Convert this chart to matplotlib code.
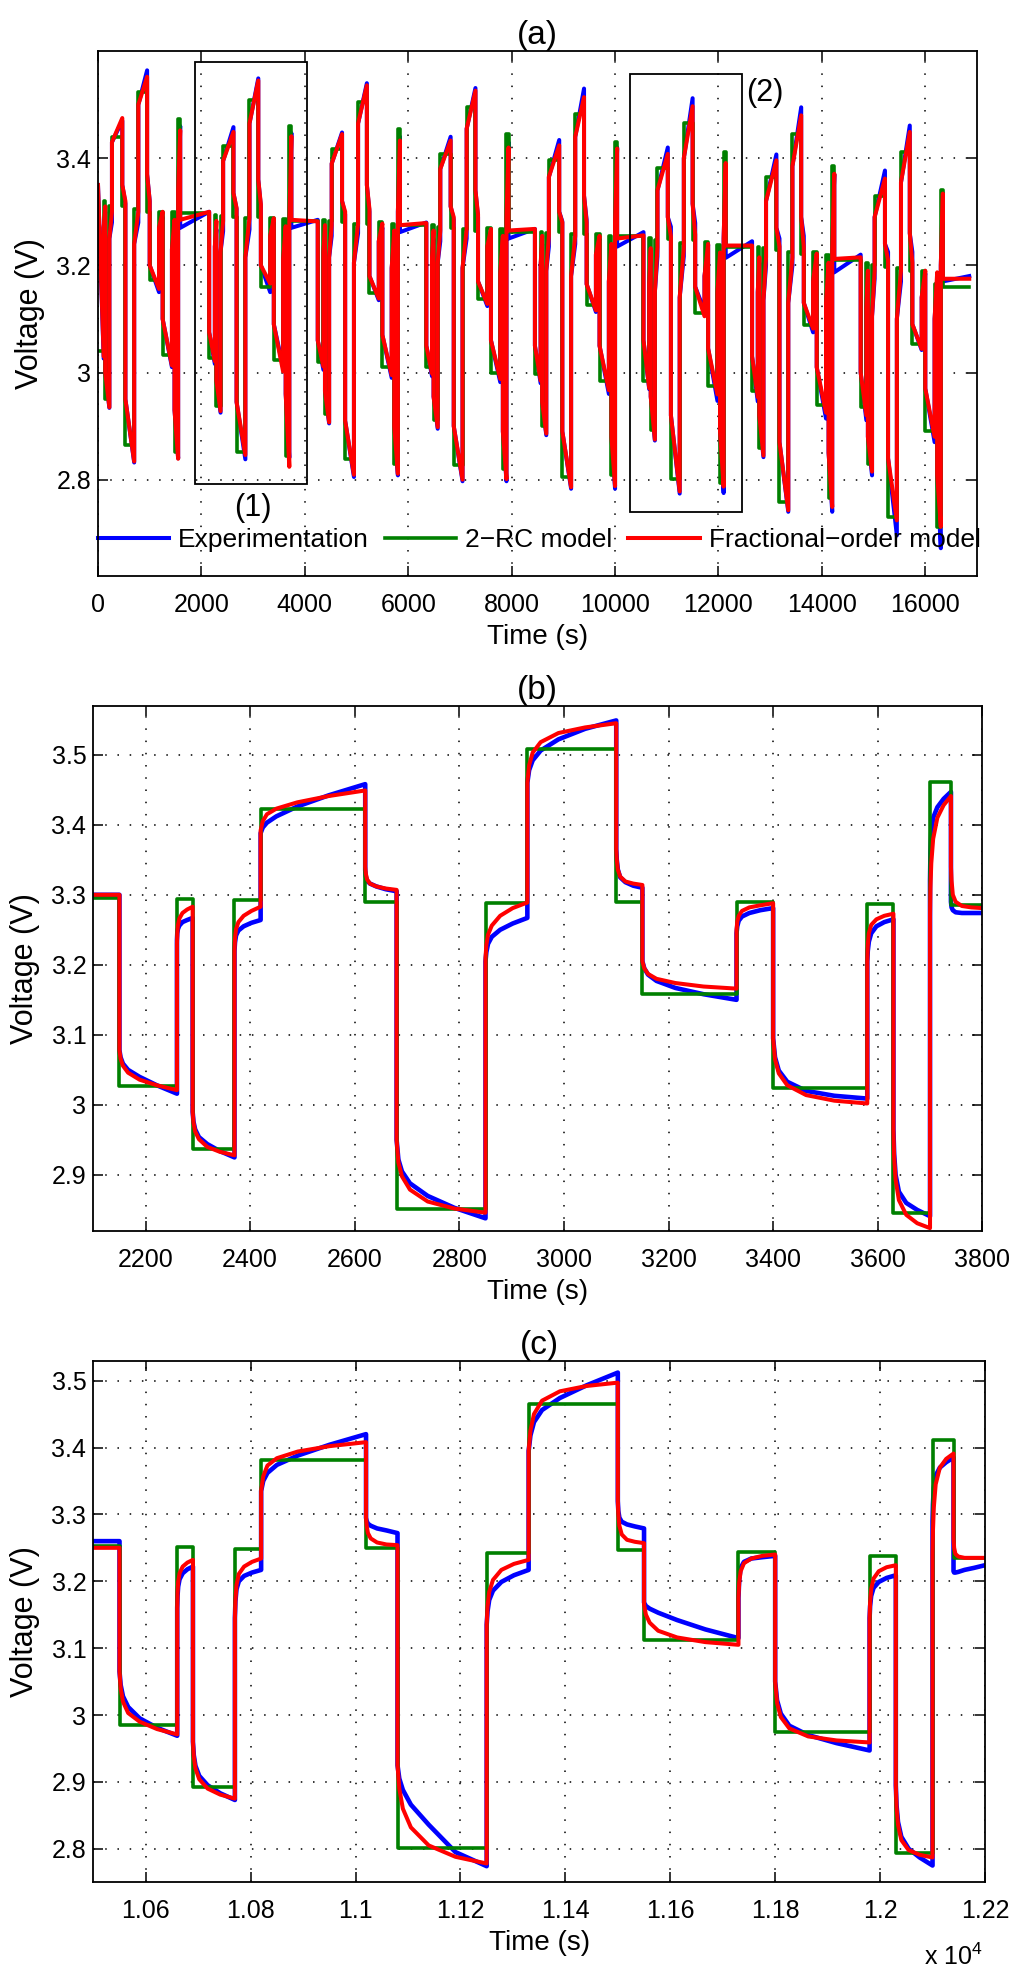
"""Terminal voltage of the cell: measurement vs 2-RC and fractional-order models."""

import matplotlib
import numpy as np

matplotlib.use("Agg")
from matplotlib import pyplot as plt  # noqa: E402
from matplotlib.patches import Rectangle  # noqa: E402

plt.rcParams["font.family"] = ["Liberation Sans", "DejaVu Sans"]
plt.rcParams["mathtext.fontset"] = "custom"
plt.rcParams["mathtext.rm"] = "Liberation Sans"
plt.rcParams["mathtext.it"] = "Liberation Sans"

# ---------------------------------------------------------------- data (a)
# one pulse cycle = 17 steps: D1 C1 D2 C2 H M1 DB C3 VH M2 ML C4 D3 C5 D4 S R
A_CYCLE_START = [0, 2150, 4250, 6350, 8450, 10550, 12650, 14750]
A_END_TIME = 16850
PULSE_OFFSETS = [0, 110, 140, 220, 270, 470, 530, 700, 780, 950, 1000, 1180, 1250, 1430, 1480, 1550, 1590]

A_RC = [
    [3.040, 3.320, 2.950, 3.310, 3.440, 3.310, 2.865, 3.305, 3.523, 3.300, 3.172, 3.300, 3.032, 3.300, 2.851, 3.473, 3.297],
    [3.027, 3.294, 2.937, 3.293, 3.423, 3.290, 2.851, 3.288, 3.508, 3.290, 3.159, 3.289, 3.024, 3.287, 2.845, 3.461, 3.283],
    [3.020, 3.285, 2.922, 3.283, 3.418, 3.280, 2.838, 3.278, 3.505, 3.277, 3.148, 3.280, 3.010, 3.278, 2.830, 3.455, 3.275],
    [3.010, 3.275, 2.912, 3.272, 3.408, 3.270, 2.827, 3.268, 3.495, 3.265, 3.138, 3.270, 3.000, 3.268, 2.820, 3.446, 3.262],
    [2.998, 3.262, 2.900, 3.260, 3.396, 3.262, 2.805, 3.258, 3.483, 3.259, 3.126, 3.258, 2.985, 3.255, 2.808, 3.430, 3.255],
    [2.985, 3.251, 2.893, 3.248, 3.381, 3.249, 2.801, 3.242, 3.465, 3.247, 3.112, 3.244, 2.974, 3.238, 2.794, 3.411, 3.235],
    [2.965, 3.235, 2.860, 3.232, 3.365, 3.228, 2.758, 3.225, 3.446, 3.222, 3.088, 3.225, 2.940, 3.220, 2.765, 3.386, 3.210],
    [2.935, 3.205, 2.830, 3.200, 3.330, 3.197, 2.730, 3.195, 3.411, 3.190, 3.054, 3.190, 2.890, 3.165, 2.712, 3.340, 3.160],
]
A_FRAC_START = [
    [3.350, 3.270, 3.000, 3.250, 3.430, 3.350, 2.950, 3.240, 3.500, 3.370, 3.200, 3.270, 3.100, 3.230, 2.930, 3.340, 3.285],
    [3.075, 3.235, 2.985, 3.225, 3.395, 3.335, 2.945, 3.215, 3.465, 3.360, 3.200, 3.255, 3.090, 3.210, 2.960, 3.280, 3.285],
    [3.060, 3.225, 2.965, 3.215, 3.390, 3.320, 2.910, 3.205, 3.465, 3.350, 3.180, 3.245, 3.070, 3.195, 2.900, 3.300, 3.275],
    [3.050, 3.215, 2.955, 3.205, 3.380, 3.310, 2.900, 3.195, 3.455, 3.340, 3.170, 3.235, 3.060, 3.185, 2.890, 3.290, 3.265],
    [3.050, 3.200, 2.945, 3.190, 3.365, 3.300, 2.890, 3.180, 3.440, 3.330, 3.165, 3.220, 3.050, 3.170, 2.880, 3.280, 3.250],
    [3.060, 3.165, 2.955, 3.150, 3.340, 3.290, 2.920, 3.140, 3.400, 3.315, 3.160, 3.180, 3.045, 3.150, 2.890, 3.250, 3.237],
    [3.030, 3.150, 2.920, 3.135, 3.320, 3.270, 2.870, 3.130, 3.385, 3.290, 3.130, 3.170, 3.010, 3.130, 2.850, 3.230, 3.212],
    [3.000, 3.120, 2.880, 3.105, 3.290, 3.240, 2.840, 3.100, 3.355, 3.260, 3.090, 3.140, 2.970, 3.100, 2.810, 3.200, 3.175],
]
A_FRAC_END = [
    [3.030, 3.310, 2.935, 3.300, 3.475, 3.320, 2.834, 3.300, 3.552, 3.320, 3.156, 3.300, 3.013, 3.285, 2.839, 3.452, 3.300],
    [3.021, 3.283, 2.928, 3.283, 3.449, 3.307, 2.846, 3.289, 3.545, 3.314, 3.166, 3.288, 3.002, 3.273, 2.824, 3.441, 3.282],
    [3.011, 3.275, 2.907, 3.275, 3.445, 3.300, 2.809, 3.278, 3.536, 3.305, 3.138, 3.278, 2.995, 3.265, 2.811, 3.433, 3.279],
    [2.998, 3.265, 2.898, 3.265, 3.433, 3.290, 2.800, 3.268, 3.526, 3.295, 3.128, 3.268, 2.988, 3.255, 2.801, 3.420, 3.268],
    [2.985, 3.255, 2.886, 3.255, 3.424, 3.280, 2.786, 3.255, 3.514, 3.280, 3.116, 3.255, 2.967, 3.240, 2.788, 3.418, 3.256],
    [2.971, 3.232, 2.875, 3.234, 3.408, 3.254, 2.778, 3.232, 3.497, 3.257, 3.105, 3.240, 2.959, 3.224, 2.787, 3.391, 3.237],
    [2.954, 3.215, 2.845, 3.215, 3.396, 3.235, 2.743, 3.215, 3.480, 3.235, 3.082, 3.222, 2.925, 3.205, 2.749, 3.371, 3.215],
    [2.920, 3.190, 2.815, 3.190, 3.362, 3.210, 2.724, 3.190, 3.449, 3.205, 3.044, 3.190, 2.880, 3.187, 2.712, 3.334, 3.175],
]
A_EXP_END = [
    [3.026, 3.300, 2.934, 3.280, 3.470, 3.315, 2.832, 3.280, 3.564, 3.320, 3.150, 3.290, 3.010, 3.275, 2.840, 3.460, 3.300],
    [3.016, 3.267, 2.925, 3.264, 3.458, 3.305, 2.838, 3.267, 3.549, 3.310, 3.150, 3.281, 3.009, 3.265, 2.841, 3.447, 3.285],
    [3.005, 3.260, 2.905, 3.255, 3.448, 3.295, 2.805, 3.260, 3.540, 3.300, 3.135, 3.270, 2.990, 3.255, 2.808, 3.440, 3.280],
    [2.993, 3.250, 2.895, 3.245, 3.440, 3.285, 2.797, 3.250, 3.531, 3.290, 3.124, 3.260, 2.982, 3.245, 2.797, 3.430, 3.268],
    [2.980, 3.240, 2.883, 3.235, 3.434, 3.282, 2.783, 3.240, 3.530, 3.285, 3.113, 3.250, 2.960, 3.225, 2.783, 3.420, 3.262],
    [2.969, 3.222, 2.873, 3.217, 3.420, 3.272, 2.774, 3.217, 3.512, 3.279, 3.115, 3.238, 2.947, 3.209, 2.775, 3.385, 3.245],
    [2.946, 3.205, 2.842, 3.200, 3.407, 3.250, 2.740, 3.200, 3.495, 3.255, 3.075, 3.220, 2.914, 3.190, 2.740, 3.370, 3.220],
    [2.911, 3.180, 2.808, 3.175, 3.377, 3.225, 2.696, 3.170, 3.461, 3.225, 3.042, 3.185, 2.870, 3.175, 2.672, 3.335, 3.180],
]
# measured value right after the last pulse (rest step); other steps start on the model value
A_EXP_REST_START = [3.270, 3.270, 3.262, 3.250, 3.235, 3.214, 3.187, 3.170]

# ------------------------------------------------------------ data (b), (c)
# values read at these fractions of every step
SAMPLE_FRAC = [0.0, 0.02, 0.06, 0.15, 0.35, 0.65, 1.0]

B_EDGES = [2100, 2150, 2260, 2290, 2370, 2420, 2620, 2680, 2850, 2930, 3100, 3150, 3330, 3400, 3580, 3630, 3700, 3740, 3800]
B_RC = [3.295, 3.027, 3.294, 2.937, 3.293, 3.423, 3.290, 2.851, 3.288, 3.508, 3.290, 3.158, 3.289, 3.024, 3.287, 2.845, 3.461, 3.286]
B_EXP = [
    [3.300, 3.300, 3.300, 3.300, 3.300, 3.300, 3.300],
    [3.078, 3.068, 3.059, 3.050, 3.040, 3.028, 3.016],
    [3.235, 3.245, 3.251, 3.256, 3.261, 3.264, 3.267],
    [2.990, 2.976, 2.965, 2.954, 2.944, 2.934, 2.925],
    [3.220, 3.232, 3.242, 3.249, 3.255, 3.260, 3.264],
    [3.388, 3.396, 3.403, 3.412, 3.426, 3.442, 3.458],
    [3.335, 3.326, 3.320, 3.316, 3.312, 3.308, 3.305],
    [2.950, 2.922, 2.905, 2.888, 2.870, 2.853, 2.838],
    [3.205, 3.218, 3.230, 3.240, 3.250, 3.259, 3.267],
    [3.460, 3.478, 3.492, 3.506, 3.522, 3.537, 3.549],
    [3.365, 3.350, 3.336, 3.325, 3.318, 3.313, 3.310],
    [3.205, 3.195, 3.186, 3.177, 3.167, 3.158, 3.150],
    [3.245, 3.255, 3.263, 3.269, 3.274, 3.278, 3.281],
    [3.095, 3.068, 3.049, 3.033, 3.020, 3.013, 3.009],
    [3.205, 3.220, 3.233, 3.245, 3.255, 3.261, 3.265],
    [2.965, 2.930, 2.900, 2.876, 2.860, 2.850, 2.841],
    [3.320, 3.360, 3.390, 3.410, 3.425, 3.437, 3.447],
    [3.290, 3.282, 3.278, 3.275, 3.274, 3.274, 3.274],
]
B_FRAC = [
    [3.300, 3.300, 3.300, 3.300, 3.300, 3.300, 3.300],
    [3.078, 3.066, 3.056, 3.046, 3.036, 3.028, 3.021],
    [3.230, 3.245, 3.256, 3.266, 3.274, 3.279, 3.283],
    [2.990, 2.975, 2.962, 2.951, 2.940, 2.933, 2.928],
    [3.220, 3.238, 3.251, 3.261, 3.270, 3.277, 3.283],
    [3.392, 3.405, 3.415, 3.423, 3.432, 3.441, 3.449],
    [3.340, 3.330, 3.322, 3.316, 3.312, 3.309, 3.307],
    [2.950, 2.918, 2.898, 2.879, 2.862, 2.852, 2.846],
    [3.210, 3.228, 3.243, 3.256, 3.270, 3.281, 3.289],
    [3.460, 3.485, 3.503, 3.518, 3.531, 3.539, 3.545],
    [3.365, 3.350, 3.336, 3.326, 3.319, 3.316, 3.314],
    [3.205, 3.195, 3.187, 3.180, 3.174, 3.169, 3.166],
    [3.250, 3.262, 3.270, 3.277, 3.282, 3.285, 3.288],
    [3.095, 3.065, 3.045, 3.028, 3.014, 3.006, 3.002],
    [3.205, 3.228, 3.245, 3.257, 3.265, 3.270, 3.273],
    [2.965, 2.925, 2.893, 2.864, 2.843, 2.831, 2.824],
    [3.270, 3.310, 3.345, 3.380, 3.410, 3.428, 3.441],
    [3.340, 3.320, 3.300, 3.290, 3.284, 3.282, 3.281],
]

C_EDGES = [10500, 10550, 10660, 10690, 10770, 10820, 11020, 11080, 11250, 11330, 11500, 11550, 11730, 11800, 11980, 12030, 12100, 12140, 12200]
C_RC = [3.253, 2.985, 3.251, 2.893, 3.248, 3.381, 3.249, 2.801, 3.242, 3.465, 3.247, 3.112, 3.244, 2.974, 3.238, 2.794, 3.411, 3.235]
C_EXP = [
    [3.260, 3.260, 3.260, 3.260, 3.260, 3.260, 3.260],
    [3.065, 3.045, 3.028, 3.012, 2.995, 2.981, 2.969],
    [3.160, 3.178, 3.192, 3.203, 3.212, 3.218, 3.222],
    [2.960, 2.940, 2.924, 2.909, 2.895, 2.883, 2.873],
    [3.145, 3.170, 3.188, 3.200, 3.208, 3.213, 3.217],
    [3.335, 3.350, 3.362, 3.374, 3.388, 3.404, 3.420],
    [3.295, 3.290, 3.286, 3.283, 3.279, 3.276, 3.272],
    [2.925, 2.905, 2.888, 2.866, 2.836, 2.795, 2.774],
    [3.135, 3.155, 3.172, 3.186, 3.199, 3.209, 3.217],
    [3.395, 3.418, 3.438, 3.456, 3.474, 3.493, 3.512],
    [3.320, 3.305, 3.295, 3.289, 3.285, 3.282, 3.279],
    [3.168, 3.163, 3.159, 3.153, 3.142, 3.128, 3.115],
    [3.175, 3.202, 3.220, 3.229, 3.234, 3.236, 3.238],
    [3.050, 3.022, 3.002, 2.984, 2.970, 2.958, 2.947],
    [3.145, 3.163, 3.178, 3.190, 3.199, 3.205, 3.209],
    [2.895, 2.865, 2.840, 2.818, 2.800, 2.787, 2.775],
    [3.290, 3.315, 3.340, 3.358, 3.370, 3.378, 3.385],
    [3.215, 3.213, 3.213, 3.214, 3.217, 3.220, 3.224],
]
C_FRAC = [
    [3.250, 3.250, 3.250, 3.250, 3.250, 3.250, 3.250],
    [3.065, 3.040, 3.020, 3.003, 2.990, 2.979, 2.971],
    [3.160, 3.182, 3.199, 3.212, 3.222, 3.228, 3.232],
    [2.960, 2.938, 2.920, 2.904, 2.890, 2.881, 2.875],
    [3.145, 3.172, 3.194, 3.211, 3.222, 3.229, 3.234],
    [3.335, 3.357, 3.373, 3.384, 3.394, 3.402, 3.408],
    [3.295, 3.283, 3.272, 3.264, 3.258, 3.255, 3.254],
    [2.925, 2.890, 2.860, 2.832, 2.805, 2.788, 2.778],
    [3.135, 3.162, 3.184, 3.202, 3.217, 3.226, 3.232],
    [3.395, 3.425, 3.450, 3.470, 3.484, 3.492, 3.497],
    [3.320, 3.300, 3.283, 3.270, 3.262, 3.259, 3.257],
    [3.165, 3.150, 3.138, 3.126, 3.116, 3.109, 3.105],
    [3.175, 3.198, 3.215, 3.227, 3.234, 3.238, 3.240],
    [3.050, 3.018, 2.997, 2.980, 2.968, 2.962, 2.959],
    [3.145, 3.168, 3.188, 3.204, 3.215, 3.221, 3.224],
    [2.895, 2.862, 2.836, 2.813, 2.798, 2.791, 2.787],
    [3.240, 3.275, 3.310, 3.345, 3.370, 3.383, 3.391],
    [3.265, 3.250, 3.241, 3.237, 3.235, 3.235, 3.235],
]

# ---------------------------------------------------------------- ticks
A_XTICKS = [0, 2000, 4000, 6000, 8000, 10000, 12000, 14000, 16000]
A_XLABELS = ["0", "2000", "4000", "6000", "8000", "10000", "12000", "14000", "16000"]
A_YTICKS = [2.8, 3.0, 3.2, 3.4]
A_YLABELS = ["2.8", "3", "3.2", "3.4"]
B_XTICKS = [2200, 2400, 2600, 2800, 3000, 3200, 3400, 3600, 3800]
B_XLABELS = ["2200", "2400", "2600", "2800", "3000", "3200", "3400", "3600", "3800"]
B_YTICKS = [2.9, 3.0, 3.1, 3.2, 3.3, 3.4, 3.5]
B_YLABELS = ["2.9", "3", "3.1", "3.2", "3.3", "3.4", "3.5"]
C_XTICKS = [10600, 10800, 11000, 11200, 11400, 11600, 11800, 12000, 12200]
C_XLABELS = ["1.06", "1.08", "1.1", "1.12", "1.14", "1.16", "1.18", "1.2", "1.22"]
C_YTICKS = [2.8, 2.9, 3.0, 3.1, 3.2, 3.3, 3.4, 3.5]
C_YLABELS = ["2.8", "2.9", "3", "3.1", "3.2", "3.3", "3.4", "3.5"]

LEGEND_LABELS = ["Experimentation", "2\u2212RC model", "Fractional\u2212order model"]

EXP_COLOR = "#0000ff"
RC_COLOR = "#008000"
FRAC_COLOR = "#ff0000"


def full_test_curves():
    times, exp, frac, rc = [], [], [], []
    last = len(PULSE_OFFSETS) - 1
    for k, start in enumerate(A_CYCLE_START):
        stop = A_CYCLE_START[k + 1] if k + 1 < len(A_CYCLE_START) else A_END_TIME
        edges = [start + o for o in PULSE_OFFSETS] + [stop]
        for i in range(len(PULSE_OFFSETS)):
            times += [edges[i], edges[i + 1]]
            frac += [A_FRAC_START[k][i], A_FRAC_END[k][i]]
            exp_start = A_EXP_REST_START[k] if i == last else A_FRAC_START[k][i]
            exp += [exp_start, A_EXP_END[k][i]]
            rc += [A_RC[k][i], A_RC[k][i]]
    return np.array(times), np.array(exp), np.array(rc), np.array(frac)


def sampled_curve(edges, samples):
    t, v = [], []
    for i, vals in enumerate(samples):
        t0, t1 = edges[i], edges[i + 1]
        t.extend(t0 + f * (t1 - t0) for f in SAMPLE_FRAC)
        v.extend(vals)
    return np.array(t), np.array(v)


def step_curve(edges, levels):
    t, v = [], []
    for i, level in enumerate(levels):
        t += [edges[i], edges[i + 1]]
        v += [level, level]
    return np.array(t), np.array(v)


def draw_series(ax, exp, rc, frac, exp_width):
    ax.plot(*exp, color=EXP_COLOR, lw=exp_width, label=LEGEND_LABELS[0], zorder=2)
    ax.plot(*rc, color=RC_COLOR, lw=2.6, label=LEGEND_LABELS[1], zorder=3)
    ax.plot(*frac, color=FRAC_COLOR, lw=2.9, label=LEGEND_LABELS[2], zorder=4)


def style_axes(ax, xlim, ylim, xticks, xlabels, yticks, ylabels, title):
    ax.set_xlim(*xlim)
    ax.set_ylim(*ylim)
    ax.set_xticks(xticks, xlabels)
    ax.set_yticks(yticks, ylabels)
    ax.tick_params(direction="in", top=True, right=True, length=7, width=1.1, labelsize=18)
    ax.tick_params(axis="x", pad=12)
    ax.tick_params(axis="y", pad=5)
    ax.grid(True, color="black", linewidth=1.1, linestyle=(0, (1, 7)))
    ax.set_axisbelow(True)
    for spine in ax.spines.values():
        spine.set_linewidth(1.3)
        spine.set_zorder(6)
    ax.set_xlabel("Time (s)", fontsize=20, labelpad=5)
    ax.set_ylabel("Voltage (V)", fontsize=22, labelpad=8)
    ax.set_title(title, fontsize=24, pad=5)


def main() -> None:
    fig = plt.figure(figsize=(10.24, 19.79), dpi=100)
    ax_a = fig.add_axes([0.0957, 0.7089, 0.8584, 0.2653])
    ax_b = fig.add_axes([0.0911, 0.3780, 0.8682, 0.2654])
    ax_c = fig.add_axes([0.0911, 0.0489, 0.8708, 0.2636])

    t, exp, rc, frac = full_test_curves()
    draw_series(ax_a, (t, exp), (t, rc), (t, frac), 2.9)
    style_axes(ax_a, (0, 17000), (2.62, 3.6), A_XTICKS, A_XLABELS, A_YTICKS, A_YLABELS, "(a)")
    for (x0, y0, x1, y1) in [(1874, 2.791, 4039, 3.579), (10293, 2.740, 12450, 3.557)]:
        ax_a.add_patch(Rectangle((x0, y0), x1 - x0, y1 - y0, fill=False, ec="black", lw=1.3, zorder=5))
    ax_a.text(2995, 2.748, "(1)", ha="center", va="center", fontsize=22)
    ax_a.text(12889, 3.522, "(2)", ha="center", va="center", fontsize=22)
    ax_a.legend(loc="center", bbox_to_anchor=(0.502, 0.069), ncol=3, frameon=False,
                fontsize=19, handlelength=2.7, handletextpad=0.35, columnspacing=0.6,
                borderpad=0, borderaxespad=0)

    draw_series(ax_b, sampled_curve(B_EDGES, B_EXP), step_curve(B_EDGES, B_RC),
                sampled_curve(B_EDGES, B_FRAC), 3.3)
    style_axes(ax_b, (2100, 3800), (2.82, 3.57), B_XTICKS, B_XLABELS, B_YTICKS, B_YLABELS, "(b)")

    draw_series(ax_c, sampled_curve(C_EDGES, C_EXP), step_curve(C_EDGES, C_RC),
                sampled_curve(C_EDGES, C_FRAC), 3.3)
    style_axes(ax_c, (10500, 12200), (2.75, 3.53), C_XTICKS, C_XLABELS, C_YTICKS, C_YLABELS, "(c)")
    ax_c.text(0.998, -0.1586, r"x 10$^{4}$", transform=ax_c.transAxes, ha="right", va="baseline", fontsize=18)

    fig.savefig("out.png", dpi=100)
    plt.close(fig)


if __name__ == "__main__":
    main()
